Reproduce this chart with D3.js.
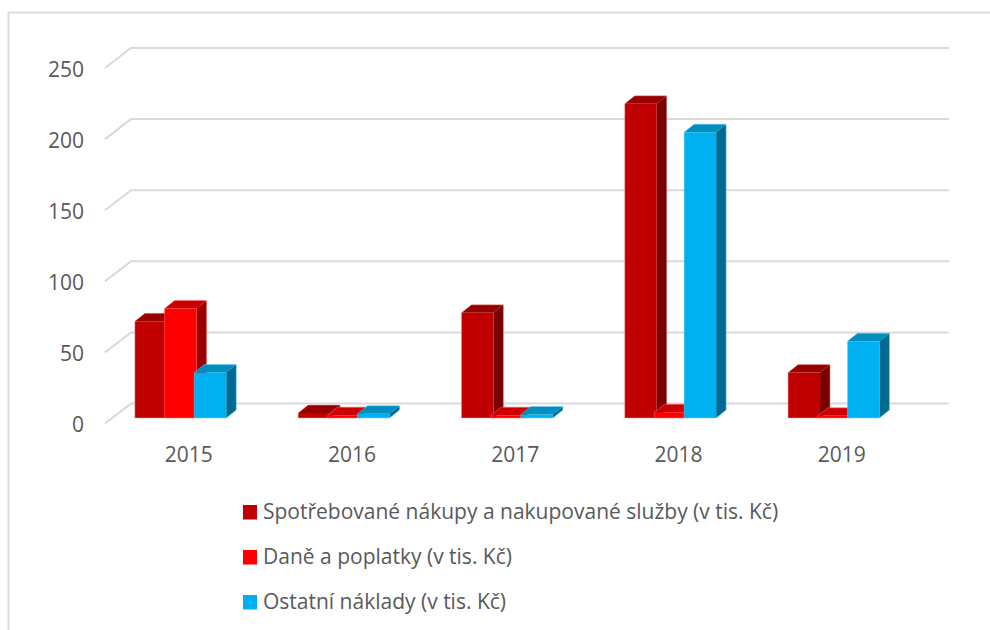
<!DOCTYPE html>
<html><head><meta charset="utf-8">
<script src="https://cdn.jsdelivr.net/npm/d3@7"></script>
<style>html,body{margin:0;background:#fff}text{font-family:"Open Sans",Lato,sans-serif;fill:#595959}</style>
</head><body><svg id="c" width="990" height="630"></svg>
<script>
const years=["2015","2016","2017","2018","2019"];
const seriesNames=["Spotřebované nákupy a nakupované služby (v tis. Kč)","Daně a poplatky (v tis. Kč)","Ostatní náklady (v tis. Kč)"];
const services=[68,3.5,74,221,32];
const taxes=[77,2,2,4,1.5];
const other=[32,3,2.5,201,54];
const yTicks=[0,50,100,150,200,250];
const front=["#c00000","#ff0000","#00b0f0"];
const topC=["#990000","#cc0000","#008dc0"];
const sideC=["#7a0000","#990000","#006a90"];
const rim=["#f0a0a0","#ff7070","#60d4ff"];
const seriesValues=[services,taxes,other];

const svg=d3.select("#c");
const y=d3.scaleLinear().domain([0,250]).range([418,62.5]);
const x0=d3.scaleBand().domain(years).range([107,923.5]);
const barStep=29.7,barW=32,dx=10,dy=8;
const barX=(i,s)=>x0(years[i])+x0.step()/2-53.5+s*barStep-0.3;

svg.append("path").attr("d","M8.5,630V12.5H990").attr("fill","none").attr("stroke","#dcdcdc").attr("stroke-width",2);

const gx0=105,gdx=26,gdy=20,gx1=949;
yTicks.forEach(t=>{
  const yy=y(t)+5.5;
  svg.append("path").attr("d",`M${gx0},${yy}L${gx0+gdx},${yy-gdy}H${gx1}`)
    .attr("fill","none").attr("stroke","#d9d9d9").attr("stroke-width",2);
  svg.append("text").attr("x",84).attr("y",y(t)+14).attr("text-anchor","end").attr("font-size",21).text(t);
});

const poly=(pts,c)=>svg.append("polygon").attr("points",pts.map(p=>p.join(",")).join(" ")).attr("fill",c);
years.forEach((yr,i)=>{
  seriesValues.forEach((vals,s)=>{
    const L=barX(i,s),R=L+barW,T=y(vals[i]),B=y(0);
    poly([[R,B],[R+dx,B-dy],[R+dx,T-dy],[R,T]],sideC[s]);
    poly([[L,T],[L+dx,T-dy],[R+dx,T-dy],[R,T]],topC[s]);
    poly([[L,B],[R,B],[R,T],[L,T]],front[s]);
    svg.append("path").attr("d",`M${L},${B}V${T}L${L+dx},${T-dy}H${R+dx}V${B-dy}L${R},${B}Z`)
      .attr("fill","none").attr("stroke",rim[s]).attr("stroke-width",0.8).attr("stroke-opacity",0.6).attr("stroke-linejoin","round");
  });
  svg.append("text").attr("x",x0(yr)+x0.step()/2).attr("y",461.5).attr("text-anchor","middle").attr("font-size",21).text(yr);
});

const legY=[512,557,602];
seriesNames.forEach((n,s)=>{
  svg.append("rect").attr("x",243).attr("y",legY[s]-7).attr("width",14).attr("height",14.5).attr("fill",front[s]);
  svg.append("text").attr("x",263).attr("y",legY[s]+7).attr("font-size",21).text(n);
});
</script></body></html>
